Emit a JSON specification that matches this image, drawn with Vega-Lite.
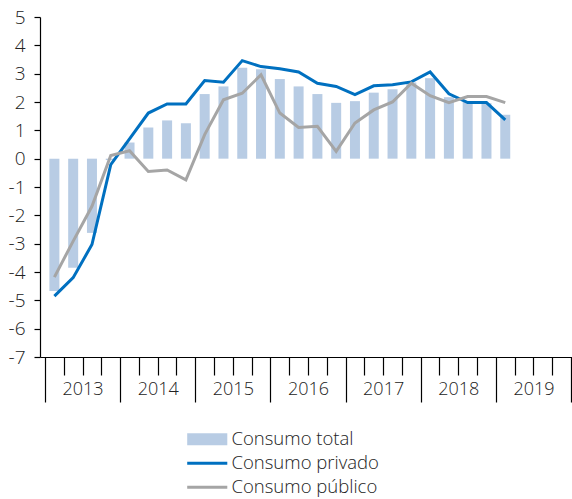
{
  "$schema": "https://vega.github.io/schema/vega-lite/v6.json",
  "autosize": {"type": "none"},
  "padding": {"left": 40, "top": 17, "right": 0, "bottom": 142},
  "width": 536,
  "height": 340,
  "background": "white",
  "config": {
    "view": {"stroke": null},
    "font": "Open Sans",
    "axis": {"grid": false, "title": null, "domainColor": "#000", "tickColor": "#000", "labelColor": "#222", "labelFontSize": 18, "labelFont": "Open Sans", "labelFontWeight": 300, "domainWidth": 1.2, "tickWidth": 1.2}
  },
  "datasets": {
    "d": [
      {"t": 1, "s": "Consumo total", "v": -4.67},
      {"t": 2, "s": "Consumo total", "v": -3.85},
      {"t": 3, "s": "Consumo total", "v": -2.62},
      {"t": 4, "s": "Consumo total", "v": -0.05},
      {"t": 5, "s": "Consumo total", "v": 0.57},
      {"t": 6, "s": "Consumo total", "v": 1.10},
      {"t": 7, "s": "Consumo total", "v": 1.35},
      {"t": 8, "s": "Consumo total", "v": 1.25},
      {"t": 9, "s": "Consumo total", "v": 2.28},
      {"t": 10, "s": "Consumo total", "v": 2.55},
      {"t": 11, "s": "Consumo total", "v": 3.21},
      {"t": 12, "s": "Consumo total", "v": 3.16},
      {"t": 13, "s": "Consumo total", "v": 2.81},
      {"t": 14, "s": "Consumo total", "v": 2.55},
      {"t": 15, "s": "Consumo total", "v": 2.28},
      {"t": 16, "s": "Consumo total", "v": 1.97},
      {"t": 17, "s": "Consumo total", "v": 2.03},
      {"t": 18, "s": "Consumo total", "v": 2.33},
      {"t": 19, "s": "Consumo total", "v": 2.45},
      {"t": 20, "s": "Consumo total", "v": 2.69},
      {"t": 21, "s": "Consumo total", "v": 2.84},
      {"t": 22, "s": "Consumo total", "v": 2.17},
      {"t": 23, "s": "Consumo total", "v": 2.02},
      {"t": 24, "s": "Consumo total", "v": 1.96},
      {"t": 25, "s": "Consumo total", "v": 1.55},
      {"t": 1, "s": "Consumo privado", "v": -4.85},
      {"t": 2, "s": "Consumo privado", "v": -4.20},
      {"t": 3, "s": "Consumo privado", "v": -3.03},
      {"t": 4, "s": "Consumo privado", "v": -0.21},
      {"t": 5, "s": "Consumo privado", "v": 0.70},
      {"t": 6, "s": "Consumo privado", "v": 1.61},
      {"t": 7, "s": "Consumo privado", "v": 1.93},
      {"t": 8, "s": "Consumo privado", "v": 1.93},
      {"t": 9, "s": "Consumo privado", "v": 2.76},
      {"t": 10, "s": "Consumo privado", "v": 2.70},
      {"t": 11, "s": "Consumo privado", "v": 3.46},
      {"t": 12, "s": "Consumo privado", "v": 3.25},
      {"t": 13, "s": "Consumo privado", "v": 3.17},
      {"t": 14, "s": "Consumo privado", "v": 3.06},
      {"t": 15, "s": "Consumo privado", "v": 2.66},
      {"t": 16, "s": "Consumo privado", "v": 2.55},
      {"t": 17, "s": "Consumo privado", "v": 2.26},
      {"t": 18, "s": "Consumo privado", "v": 2.57},
      {"t": 19, "s": "Consumo privado", "v": 2.61},
      {"t": 20, "s": "Consumo privado", "v": 2.71},
      {"t": 21, "s": "Consumo privado", "v": 3.06},
      {"t": 22, "s": "Consumo privado", "v": 2.29},
      {"t": 23, "s": "Consumo privado", "v": 1.98},
      {"t": 24, "s": "Consumo privado", "v": 1.98},
      {"t": 25, "s": "Consumo privado", "v": 1.37},
      {"t": 1, "s": "Consumo público", "v": -4.18},
      {"t": 2, "s": "Consumo público", "v": -2.91},
      {"t": 3, "s": "Consumo público", "v": -1.68},
      {"t": 4, "s": "Consumo público", "v": 0.11},
      {"t": 5, "s": "Consumo público", "v": 0.28},
      {"t": 6, "s": "Consumo público", "v": -0.45},
      {"t": 7, "s": "Consumo público", "v": -0.40},
      {"t": 8, "s": "Consumo público", "v": -0.75},
      {"t": 9, "s": "Consumo público", "v": 0.85},
      {"t": 10, "s": "Consumo público", "v": 2.08},
      {"t": 11, "s": "Consumo público", "v": 2.31},
      {"t": 12, "s": "Consumo público", "v": 2.96},
      {"t": 13, "s": "Consumo público", "v": 1.61},
      {"t": 14, "s": "Consumo público", "v": 1.10},
      {"t": 15, "s": "Consumo público", "v": 1.14},
      {"t": 16, "s": "Consumo público", "v": 0.26},
      {"t": 17, "s": "Consumo público", "v": 1.26},
      {"t": 18, "s": "Consumo público", "v": 1.72},
      {"t": 19, "s": "Consumo público", "v": 2.00},
      {"t": 20, "s": "Consumo público", "v": 2.66},
      {"t": 21, "s": "Consumo público", "v": 2.22},
      {"t": 22, "s": "Consumo público", "v": 1.98},
      {"t": 23, "s": "Consumo público", "v": 2.19},
      {"t": 24, "s": "Consumo público", "v": 2.19},
      {"t": 25, "s": "Consumo público", "v": 1.98}
    ]
  },
  "data": {"name": "d"},
  "encoding": {
    "x": {
      "field": "t",
      "type": "quantitative",
      "scale": {"domain": [0.5, 28.5], "nice": false, "zero": false},
      "axis": {
        "values": [0.5, 1.5, 2.5, 3.5, 4.5, 5.5, 6.5, 7.5, 8.5, 9.5, 10.5, 11.5, 12.5, 13.5, 14.5, 15.5, 16.5, 17.5, 18.5, 19.5, 20.5, 21.5, 22.5, 23.5, 24.5, 25.5, 26.5, 27.5, 28.5],
        "tickSize": {"condition": {"test": "(datum.value - 0.5) % 4 === 0", "value": 45}, "value": 18},
        "labelExpr": "(datum.value - 0.5) % 4 === 2 ? '' + (2013 + (datum.value - 2.5) / 4) : ''",
        "labelOverlap": false,
        "labelFlush": false,
        "labelPadding": 5,
        "labelBaseline": "top"
      }
    },
    "y": {
      "field": "v",
      "type": "quantitative",
      "scale": {"domain": [-7, 5], "nice": false},
      "axis": {"values": [-7, -6, -5, -4, -3, -2, -1, 0, 1, 2, 3, 4, 5], "tickSize": 6, "labelPadding": 9, "labelExpr": "'' + datum.value", "labelFontSize": 19}
    },
    "color": {
      "field": "s",
      "type": "nominal",
      "scale": {"domain": ["Consumo total", "Consumo privado", "Consumo público"], "range": ["#b8cce4", "#0070c0", "#a5a5a5"]},
      "legend": {
        "orient": "none",
        "legendX": 158,
        "legendY": 413,
        "title": null,
        "direction": "vertical",
        "symbolSize": 576,
        "labelFontSize": 18.5,
        "labelFontWeight": 300,
        "labelColor": "#222",
        "labelOffset": 15,
        "rowPadding": 5,
        "gridAlign": "all",
        "encode": {
          "symbols": {
            "update": {
              "shape": {"signal": "datum.value === 'Consumo total' ? 'M-1.67,-0.5H1.67V0.5H-1.67Z' : 'M-1.67,0H1.67'"},
              "fill": {"signal": "datum.value === 'Consumo total' ? '#b8cce4' : 'transparent'"},
              "stroke": {"signal": "datum.value === 'Consumo total' ? 'transparent' : (datum.value === 'Consumo privado' ? '#0070c0' : '#a5a5a5')"},
              "strokeWidth": {"signal": "datum.value === 'Consumo total' ? 0 : 3"},
              "opacity": {"value": 1}
            }
          }
        }
      }
    }
  },
  "layer": [
    {
      "transform": [{"filter": "datum.s === 'Consumo total'"}],
      "mark": {"type": "bar", "width": 10, "opacity": 1}
    },
    {
      "transform": [{"filter": "datum.s !== 'Consumo total'"}],
      "mark": {"type": "line", "strokeWidth": 3}
    }
  ]
}
